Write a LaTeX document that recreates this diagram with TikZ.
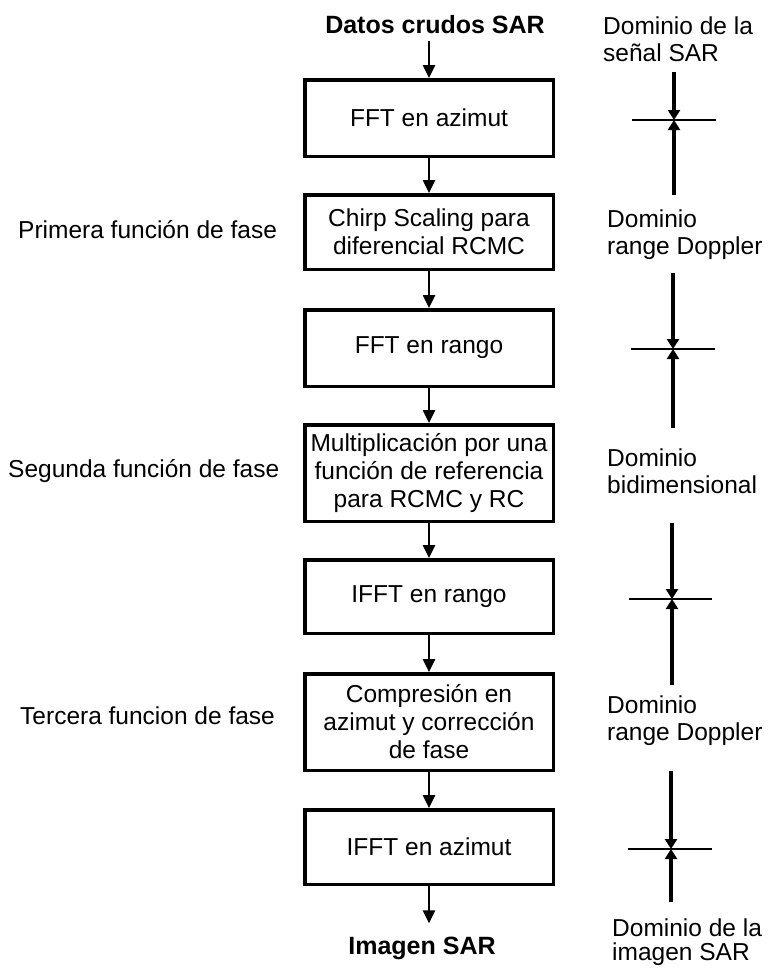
\documentclass[tikz,border=0pt]{standalone}
\usepackage{fontspec}
\setmainfont{Liberation Sans}
\usetikzlibrary{arrows.meta}
\tikzset{
  box/.style={draw, line width=3.5pt, minimum width=248.5pt, align=center, inner sep=0pt,
    font=\fontsize{24.5}{28}\selectfont},
  flow/.style={line width=2.5pt, -{Triangle[length=13pt,width=12pt]}},
  sidelbl/.style={font=\fontsize{24.5}{28}\selectfont, inner sep=0pt, anchor=base west},
  domlbl/.style={font=\fontsize{24.5}{27}\selectfont, inner sep=0pt, anchor=north west, align=left},
  titlelbl/.style={font=\fontsize{25}{28}\selectfont\bfseries, anchor=base},
  vaxis/.style={line width=4pt, -{Triangle[length=10pt,width=12pt]}},
  haxis/.style={line width=2pt},
}
\begin{document}
\begin{tikzpicture}[x=1pt,y=-1pt]
\useasboundingbox (0,0) rectangle (772,970);

% title and end labels
\node[titlelbl, inner ysep=8pt] (datos) at (435,33) {Datos crudos SAR};
\node[titlelbl, inner ysep=13pt] (imagen) at (422,954) {Imagen SAR};

% processing boxes
\node[box, minimum height=76.5pt] (b1) at (429,118) {FFT en azimut};
\node[box, minimum height=74.5pt] (b2) at (429,232) {Chirp Scaling para\\diferencial RCMC};
\node[box, minimum height=76.5pt] (b3) at (429,348) {FFT en rango};
\node[box, minimum height=96.5pt] (b4) at (429,473) {Multiplicación por una\\función de referencia\\para RCMC y RC};
\node[box, minimum height=73.5pt] (b5) at (429,596.5) {IFFT en rango};
\node[box, minimum height=96.5pt] (b6) at (429,722) {Compresión en\\azimut y corrección\\de fase};
\node[box, minimum height=74.5pt] (b7) at (429,847) {IFFT en azimut};

% flow arrows
\draw[flow] (b1.north |- datos.south) -- (b1.north);
\draw[flow] (b1) -- (b2);
\draw[flow] (b2) -- (b3);
\draw[flow] (b3) -- (b4);
\draw[flow] (b4) -- (b5);
\draw[flow] (b5) -- (b6);
\draw[flow] (b6) -- (b7);
\draw[flow] (b7.south) -- (b7.south |- imagen.north);

% phase function labels
\node[sidelbl] (f1) at (18,238) {Primera función de fase};
\node[sidelbl] (f2) at (8,477) {Segunda función de fase};
\node[sidelbl] (f3) at (20,724) {Tercera funcion de fase};

% domain labels
\node[domlbl] (d1) at (603,17) {Dominio de la\\señal SAR};
\node[domlbl] (d2) at (607,210) {Dominio\\range Doppler};
\node[domlbl] (d3) at (607,449) {Dominio\\bidimensional};
\node[domlbl] (d4) at (607,696) {Dominio\\range Doppler};
\node[domlbl, font=\fontsize{24.5}{24}\selectfont] (d5) at (612,919) {Dominio de la\\imagen SAR};

% domain crosses
\foreach \i/\xc/\top/\bot/\yc/\hl/\hr in {1/674/72/195/120/632/716, 2/673/273/428/349/631/715, 3/672/523/685/599/629/712, 4/671/771/902/849/628/712}{
  \coordinate (c\i t) at (\xc,\top);
  \coordinate (c\i b) at (\xc,\bot);
  \coordinate (c\i c) at (\xc,\yc);
  \coordinate (c\i l) at (\hl,\yc);
  \coordinate (c\i r) at (\hr,\yc);
  \draw[haxis] (c\i l) -- (c\i r);
  \draw[vaxis] (c\i t) -- (c\i c);
  \draw[vaxis] (c\i b) -- (c\i c);
}
\end{tikzpicture}
\end{document}
